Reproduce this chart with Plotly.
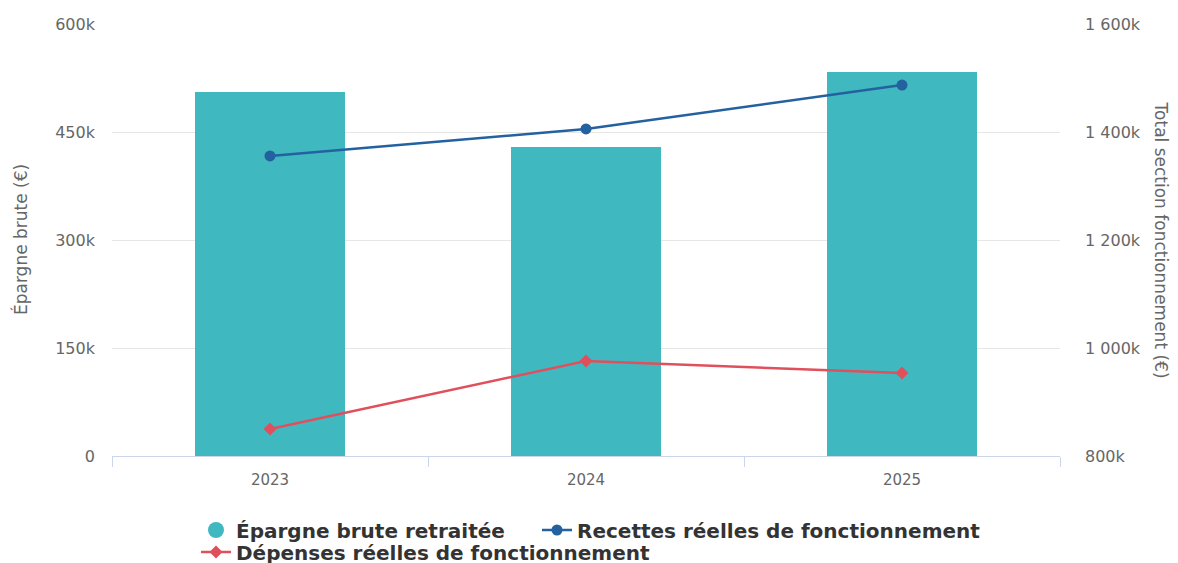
import plotly.graph_objects as go

years = ["2023", "2024", "2025"]
epargne = [505600, 429600, 533300]
recettes = [1355600, 1405600, 1487000]
depenses = [850000, 976000, 953700]

left_ticks = [0, 150000, 300000, 450000, 600000]
left_text = ["0", "150k", "300k", "450k", "600k"]
right_ticks = [800000, 1000000, 1200000, 1400000, 1600000]
right_text = ["800k", "1 000k", "1 200k", "1 400k", "1 600k"]

teal = "#40b8c0"
blue = "#2361a0"
red = "#e0505c"

fig = go.Figure()
fig.add_trace(go.Bar(x=years, y=epargne, name="Épargne brute retraitée", showlegend=False,
                     marker=dict(color=teal, line=dict(width=0)), width=0.475))
# legend entry with a round symbol for the bars
fig.add_trace(go.Scatter(x=[None], y=[None], name="Épargne brute retraitée", mode="markers",
                         marker=dict(symbol="circle", size=19, color=teal), legend="legend"))
fig.add_trace(go.Scatter(x=years, y=recettes, name="Recettes réelles de fonctionnement",
                         yaxis="y2", mode="lines+markers", legend="legend2",
                         line=dict(color=blue, width=2.5),
                         marker=dict(symbol="circle", size=11, color=blue)))
fig.add_trace(go.Scatter(x=years, y=depenses, name="Dépenses réelles de fonctionnement",
                         yaxis="y2", mode="lines+markers", legend="legend3",
                         line=dict(color=red, width=2.5),
                         marker=dict(symbol="diamond", size=10, color=red)))

legfont = dict(size=20, color="#333333", family="DejaVu Sans", weight="bold")


def leg(x, y):
    return dict(x=x / 1178, xanchor="left", xref="container",
                y=1 - y / 563, yanchor="middle", yref="container",
                font=legfont, itemwidth=30, bgcolor="rgba(0,0,0,0)")


fig.update_layout(
    width=1178, height=563,
    paper_bgcolor="white", plot_bgcolor="white",
    font=dict(family="DejaVu Sans", color="#666666", size=15),
    margin=dict(l=104, r=126, t=16, b=115, autoexpand=False),
    bargap=0,
    xaxis=dict(type="category", tickson="boundaries", ticks="outside", ticklen=10,
               tickcolor="#ccd6eb", showline=True, linecolor="#ccd6eb", linewidth=1,
               showgrid=False, ticklabelstandoff=10, automargin=False,
               tickfont=dict(size=15, color="#666666")),
    yaxis=dict(range=[0, 600000], tickvals=left_ticks, ticktext=left_text,
               gridcolor="#e6e6e6", zeroline=False, showline=False, ticks="",
               ticklabelstandoff=16, automargin=False,
               tickfont=dict(size=16, color="#666666")),
    yaxis2=dict(range=[800000, 1600000], tickvals=right_ticks, ticktext=right_text,
                overlaying="y", side="right", showgrid=False, zeroline=False,
                ticklabelstandoff=24, automargin=False,
                tickfont=dict(size=16, color="#666666")),
    legend=leg(188, 522),
    legend2=leg(529, 522),
    legend3=leg(188, 544),
)

# axis titles as annotations
fig.add_annotation(text="Épargne brute (€)", xref="paper", yref="paper", x=-0.097, y=0.5,
                   xanchor="center", yanchor="middle",
                   textangle=-90, showarrow=False, font=dict(size=17, color="#666666"))
fig.add_annotation(text="Total section fonctionnement (€)", xref="paper", yref="paper", x=1.107, y=0.5,
                   xanchor="center", yanchor="middle",
                   textangle=90, showarrow=False, font=dict(size=17, color="#666666"))

fig.write_html("out.html")
